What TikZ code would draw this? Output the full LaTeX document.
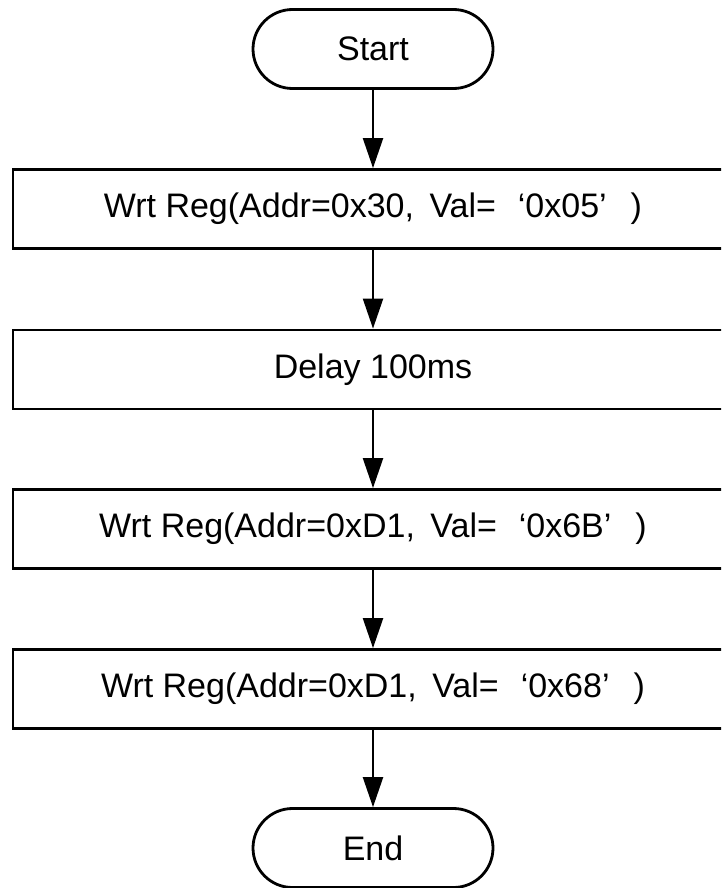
\documentclass[tikz,border=0pt]{standalone}
\usepackage{fontspec}
\setmainfont{Liberation Sans}
\usetikzlibrary{arrows.meta}
\tikzset{
  flowbox/.style={draw, line width=2.8pt, rectangle, minimum width=720pt,
    minimum height=79pt, inner sep=0pt, font=\fontsize{34}{40}\selectfont},
  terminal/.style={draw, line width=2.8pt, rectangle, rounded corners=39.5pt,
    minimum width=240pt, minimum height=79pt, inner sep=0pt,
    font=\fontsize{34}{40}\selectfont},
  flow/.style={line width=2.2pt, -{Triangle[length=30pt,width=20pt]}}
}
\newcommand{\regval}[2]{Wrt Reg(Addr=#1,\hspace{6pt} Val=\hspace{22pt}‘#2’\hspace{24pt})}
\begin{document}
\begin{tikzpicture}[x=1pt,y=-1pt]
  \useasboundingbox (0,0) rectangle (721,888);
  \clip (0,0) rectangle (721,888);

  \node[terminal] (start) at (373,49) {Start};
  \node[flowbox] (w1) at (373,209) {\regval{0x30}{0x05}};
  \node[flowbox] (dly) at (373,369.5) {Delay 100ms};
  \node[flowbox] (w2) at (373,529) {\regval{0xD1}{0x6B}};
  \node[flowbox] (w3) at (373,689) {\regval{0xD1}{0x68}};
  \node[terminal] (end) at (373,848) {End};

  \draw[flow] (start.south) -- (w1.north);
  \draw[flow] (w1.south) -- (dly.north);
  \draw[flow] (dly.south) -- (w2.north);
  \draw[flow] (w2.south) -- (w3.north);
  \draw[flow] (w3.south) -- (end.north);
\end{tikzpicture}
\end{document}
